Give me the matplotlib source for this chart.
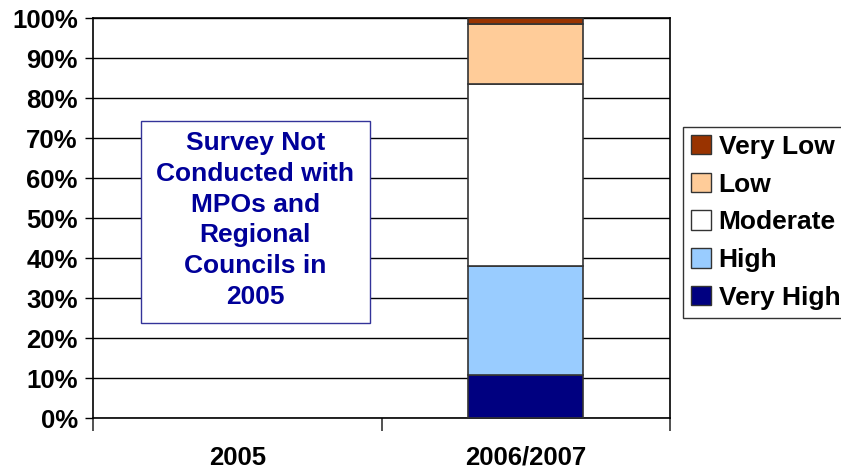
import matplotlib
matplotlib.use("Agg")
import matplotlib.pyplot as plt
from matplotlib.patches import Patch, Rectangle

# data
categories = ["2005", "2006/2007"]
levels = ["Very High", "High", "Moderate", "Low", "Very Low"]
colors = ["#000080", "#99CCFF", "#FFFFFF", "#FFCC99", "#993300"]
# percent shares (2005 survey not conducted)
very_high = [0.0, 10.7]
high = [0.0, 27.3]
moderate = [0.0, 45.5]
low = [0.0, 15.0]
very_low = [0.0, 1.5]
yticks = list(range(0, 101, 10))

plt.rcParams['font.family'] = ['Liberation Sans', 'DejaVu Sans']
plt.rcParams['font.weight'] = 'bold'

fig = plt.figure(figsize=(8.41, 4.69), dpi=100)
ax = fig.add_axes([93/841, 51/469, 577/841, 400/469])

x = list(range(len(categories)))
bottom = [0.0, 0.0]
for vals, c in zip([very_high, high, moderate, low, very_low], colors):
    # only draw the bars that have data
    xs = [xi for xi, v in zip(x, vals) if v > 0]
    vs = [v for v in vals if v > 0]
    bs = [b for b, v in zip(bottom, vals) if v > 0]
    ax.bar(xs, vs, bottom=bs, width=0.4, color=c, edgecolor='#333333', linewidth=1.2, zorder=3)
    bottom = [b + v for b, v in zip(bottom, vals)]

ax.set_xlim(-0.5, 1.5)
ax.set_ylim(0, 100)
ax.set_yticks(yticks)
ax.set_yticklabels([f"{t}%" for t in yticks], fontsize=18.5, fontweight='bold')
ax.yaxis.grid(True, color='black', linewidth=1.0, zorder=0)
ax.set_axisbelow(True)

# category labels centered, ticks at category boundaries
ax.set_xticks([-0.5, 0.5, 1.5])
ax.set_xticklabels([])
ax.set_xticks(x, minor=True)
ax.set_xticklabels(categories, minor=True, fontsize=18.5, fontweight='bold')
ax.tick_params(axis='x', which='minor', length=0, pad=20)
ax.tick_params(axis='x', which='major', length=9, width=1.2, color='#333333')
ax.tick_params(axis='y', length=6, width=1.0, pad=5)
for s in ax.spines.values():
    s.set_color('black')
    s.set_linewidth(1.2)

# note box over the empty 2005 column
ax.add_patch(Rectangle((-0.334, 23.75), 0.794, 50.5, facecolor='white',
                       edgecolor='#333399', linewidth=1.0, zorder=4))
ax.text(0.063, 49.5, "Survey Not\nConducted with\nMPOs and\nRegional\nCouncils in\n2005",
        ha='center', va='center', fontsize=19, fontweight='bold', color='#000099',
        linespacing=1.36, zorder=5)

handles = [Patch(facecolor=c, edgecolor='#333333', label=l) for c, l in zip(colors, levels)][::-1]
fig.legend(handles=handles, loc='upper left', bbox_to_anchor=(683/841, 1 - 127/469),
           fontsize=19, frameon=True, fancybox=False, edgecolor='black',
           handlelength=0.75, handleheight=0.75, handletextpad=0.3, labelspacing=0.52,
           borderpad=0.3, borderaxespad=0)

fig.savefig("out.png", dpi=100)
